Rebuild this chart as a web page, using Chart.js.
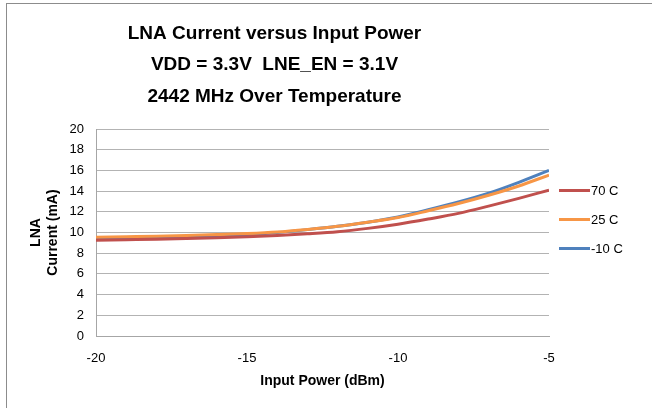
<!DOCTYPE html>
<html>
<head>
<meta charset="utf-8">
<script src="https://cdn.jsdelivr.net/npm/chart.js@4/dist/chart.umd.min.js"></script>
<style>
  html, body { margin: 0; padding: 0; background: #fff; }
  #wrap { position: relative; width: 652px; height: 408px; overflow: hidden; }
  #frame { position: absolute; left: 6px; top: 3px; width: 700px; height: 460px; border: 1px solid #8c8c8c; box-sizing: border-box; }
  canvas { position: absolute; left: 0; top: 0; }
</style>
</head>
<body>
<div id="wrap">
  <div id="frame"></div>
  <canvas id="chart" width="652" height="408"></canvas>
</div>
<script>
// Input power in dBm
const inputPower = [-20, -19, -18, -17, -16, -15, -14, -13, -12, -11, -10, -9, -8, -7, -6, -5];
// LNA current in mA
const current70 = [9.25, 9.3, 9.35, 9.42, 9.5, 9.6, 9.72, 9.88, 10.08, 10.4, 10.8, 11.3, 11.85, 12.55, 13.3, 14.1];
const current25 = [9.55, 9.6, 9.65, 9.72, 9.8, 9.9, 10.05, 10.3, 10.6, 11.0, 11.45, 12.1, 12.8, 13.6, 14.5, 15.55];
const currentM10 = [9.4, 9.45, 9.5, 9.58, 9.68, 9.8, 10.0, 10.28, 10.6, 11.0, 11.5, 12.2, 12.95, 13.8, 14.85, 16.0];
const seriesNames = ['70 C', '25 C', '-10 C'];
const seriesColors = ['#C0504D', '#F79646', '#4F81BD'];
const titleLines = ['LNA Current versus Input Power', 'VDD = 3.3V  LNE_EN = 3.1V', '2442 MHz Over Temperature'];

const toPoints = (ys) => ys.map((y, i) => ({ x: inputPower[i], y: y }));

const FONT = "'Liberation Sans', Arial, sans-serif";

// draws the legend to the right of the plot, like Excel does
const sideLegend = {
    id: 'sideLegend',
    afterDraw(chart) {
        const ctx = chart.ctx;
        const ca = chart.chartArea;
        const midY = (ca.top + ca.bottom) / 2 - 13;
        ctx.save();
        ctx.font = '13px ' + FONT;
        ctx.textBaseline = 'middle';
        ctx.textAlign = 'left';
        chart.data.datasets.forEach((ds, i) => {
            const y = midY + (i - 1) * 29;
            ctx.strokeStyle = ds.borderColor;
            ctx.lineWidth = 3;
            ctx.beginPath();
            ctx.moveTo(ca.right + 10, y);
            ctx.lineTo(ca.right + 41, y);
            ctx.stroke();
            ctx.fillStyle = '#000';
            ctx.fillText(ds.label, ca.right + 42, y + 1);
        });
        ctx.restore();
    }
};

const datasets = [current70, current25, currentM10].map((vals, i) => ({
    label: seriesNames[i],
    data: toPoints(vals),
    borderColor: seriesColors[i],
    backgroundColor: seriesColors[i],
    borderWidth: 3,
    pointRadius: 0,
    cubicInterpolationMode: 'monotone',
    fill: false
}));

new Chart(document.getElementById('chart'), {
    type: 'line',
    data: { datasets: datasets },
    options: {
        responsive: false,
        animation: false,
        devicePixelRatio: 1,
        layout: { padding: { left: 0, right: 103, top: 0, bottom: 0 } },
        plugins: {
            legend: { display: false },
            tooltip: { enabled: false },
            title: {
                display: true,
                text: titleLines,
                color: '#000',
                font: { family: FONT, size: 19, weight: 'bold', lineHeight: 1.65 },
                padding: { top: 18, bottom: 17 }
            }
        },
        scales: {
            x: {
                type: 'linear',
                min: -20,
                max: -5,
                ticks: {
                    stepSize: 5,
                    color: '#000',
                    font: { family: FONT, size: 13 },
                    padding: 15,
                    maxRotation: 0
                },
                grid: { display: false, drawTicks: false },
                border: { display: true, color: '#a6a6a6', width: 1 },
                title: {
                    display: true,
                    text: 'Input Power (dBm)',
                    color: '#000',
                    font: { family: FONT, size: 14, weight: 'bold' },
                    padding: { top: 6, bottom: 18 }
                },
                afterFit: (s) => { s.height = 72; }
            },
            y: {
                min: 0,
                max: 20,
                ticks: {
                    stepSize: 2,
                    color: '#000',
                    font: { family: FONT, size: 13 },
                    padding: 12
                },
                grid: { color: '#b3b3b3', lineWidth: 1, drawTicks: false },
                border: { display: true, color: '#a6a6a6', width: 1 },
                title: {
                    display: true,
                    text: ['LNA', 'Current (mA)'],
                    color: '#000',
                    font: { family: FONT, size: 14, weight: 'bold', lineHeight: 1.2 },
                    padding: { top: 28, bottom: 0 }
                },
                afterFit: (s) => { s.width = 96; }
            }
        }
    },
    plugins: [sideLegend]
});
</script>
</body>
</html>
